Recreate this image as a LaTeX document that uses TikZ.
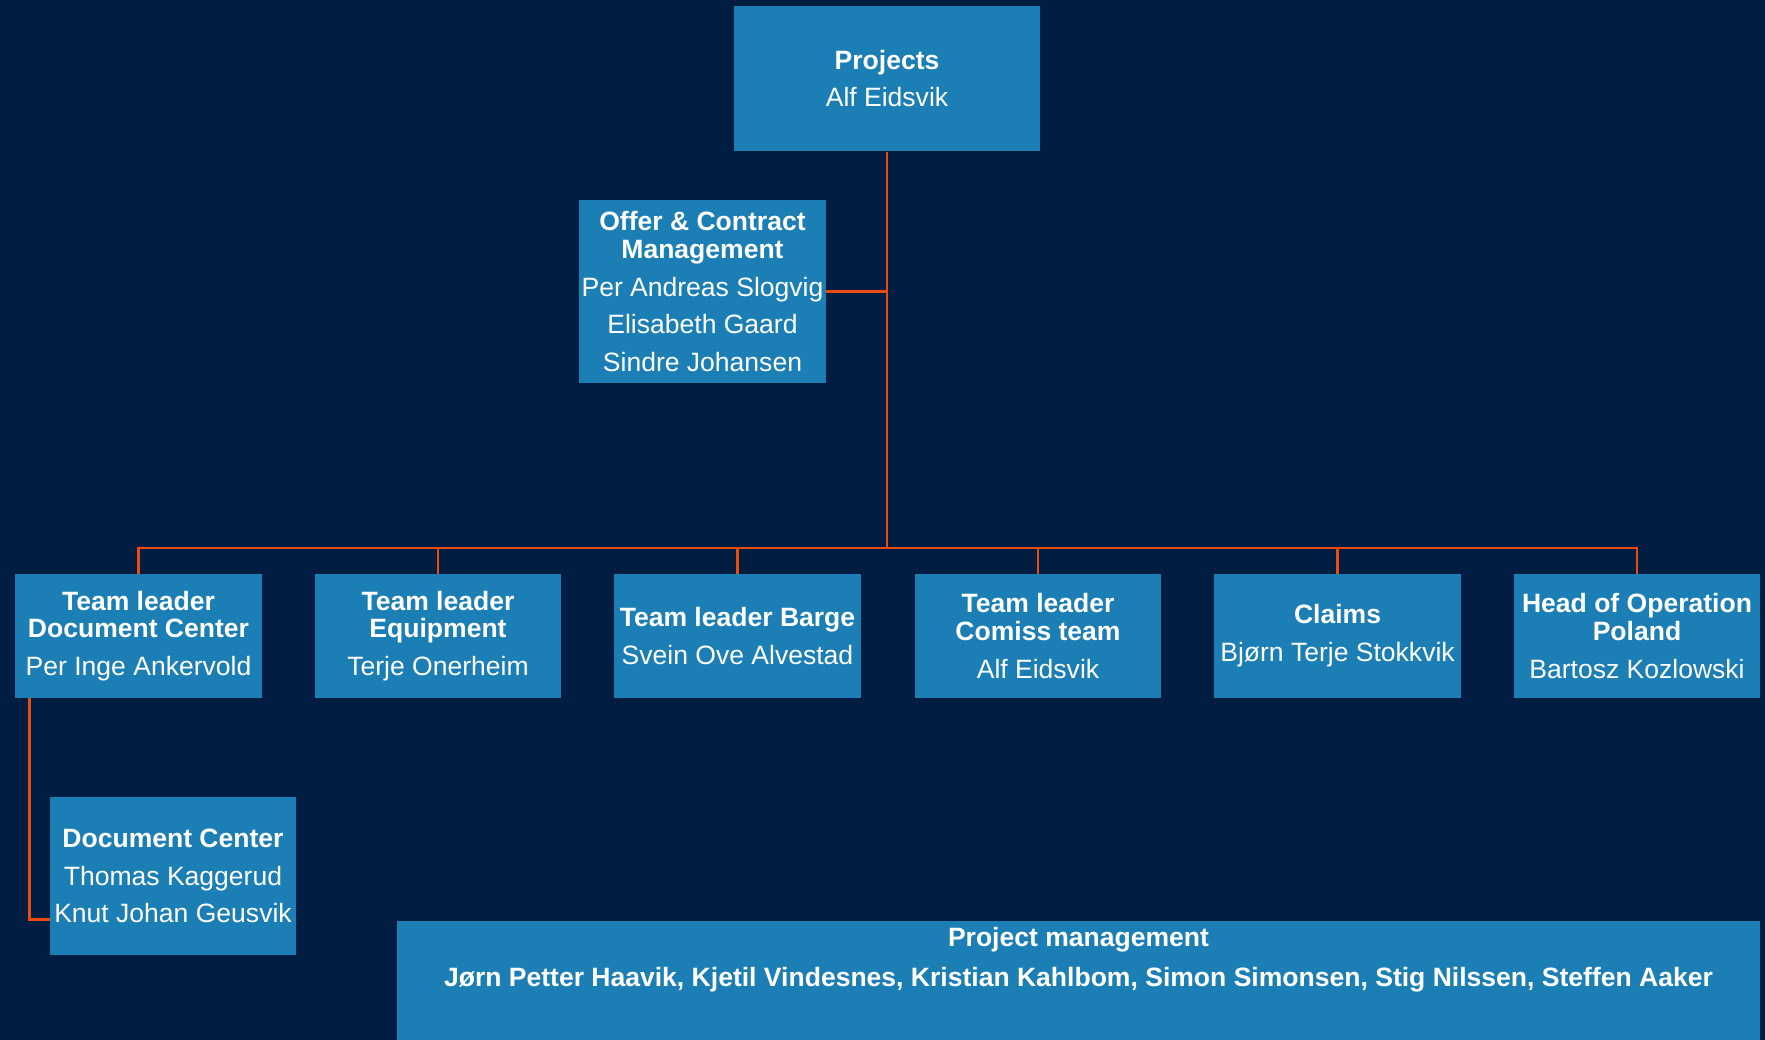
\documentclass[tikz,border=0pt]{standalone}
\usepackage{fontspec}
\setmainfont{Liberation Sans}

\definecolor{navy}{RGB}{1,30,66}
\definecolor{boxblue}{RGB}{27,126,180}
\definecolor{linkorange}{RGB}{235,75,15}

\tikzset{
  orgbox/.style={fill=boxblue, text=white, align=center, inner xsep=1pt, inner ysep=0pt,
    font=\fontsize{15.1}{21.5}\selectfont},
  teambox/.style={orgbox, minimum width=4.94cm, minimum height=2.48cm},
  link/.style={draw=linkorange, line width=1.4pt},
}

\begin{document}
\begin{tikzpicture}[x=0.02cm,y=-0.02cm]
   \useasboundingbox (0,0) rectangle (1765,1040);
   \fill[navy] (0,0) rectangle (1765,1040);
   % top
   \node[orgbox, minimum width=6.14cm, minimum height=2.92cm] (proj) at (887,78.5)
        {\textbf{Projects}\\Alf Eidsvik};
   \node[orgbox, minimum width=4.94cm, minimum height=3.66cm] (offer) at (702.5,291.5)
        {\textbf{Offer \& Contract}\\[-5.6pt]\textbf{Management}\\Per Andreas Slogvig\\Elisabeth Gaard\\Sindre Johansen};
   % team row
   \node[teambox] (doclead) at (138.5,636)
        {\textbf{Team leader}\\[-5.6pt]\textbf{Document Center}\\Per Inge Ankervold};
   \node[teambox] (equip) at (438,636)
        {\textbf{Team leader}\\[-5.6pt]\textbf{Equipment}\\Terje Onerheim};
   \node[teambox] (barge) at (737.5,636)
        {\textbf{Team leader Barge}\\Svein Ove Alvestad};
   \node[teambox] (comiss) at (1038,636)
        {\textbf{Team leader}\\[-5.6pt]\textbf{Comiss team}\\Alf Eidsvik};
   \node[teambox] (claims) at (1337.5,636)
        {\textbf{Claims}\\Bjørn Terje Stokkvik};
   \node[teambox] (poland) at (1637,636)
        {\textbf{Head of Operation}\\[-5.6pt]\textbf{Poland}\\Bartosz Kozlowski};
   \node[orgbox, minimum width=4.92cm, minimum height=3.16cm] (doccenter) at (173,876)
        {\textbf{Document Center}\\Thomas Kaggerud\\Knut Johan Geusvik};
   % project management strip
   \node[orgbox, anchor=north, minimum width=27.26cm, minimum height=2.38cm] (pm) at (1078.5,921) {};
   \node[anchor=north, align=center, text=white, inner sep=0pt,
         font=\bfseries\fontsize{15.1}{22.5}\selectfont] (pmtext) at ([yshift=-0.12cm]pm.north)
        {Project management\\Jørn Petter Haavik, Kjetil Vindesnes, Kristian Kahlbom, Simon Simonsen, Stig Nilssen, Steffen Aaker};
   % links
   \coordinate (bus) at (887,548);
   \draw[link] (proj.south) -- (bus);
   \draw[link] (offer.east) -- (offer.east -| proj.south);
   \draw[link] (doclead.north) |- (bus) -| (poland.north);
   \foreach \n in {equip,barge,comiss,claims}
      \draw[link] (\n.north) -- (\n.north |- bus);
   \draw[link] ([xshift=0.3cm]doclead.south west) |- ([yshift=0.72cm]doccenter.south west);
\end{tikzpicture}
\end{document}
